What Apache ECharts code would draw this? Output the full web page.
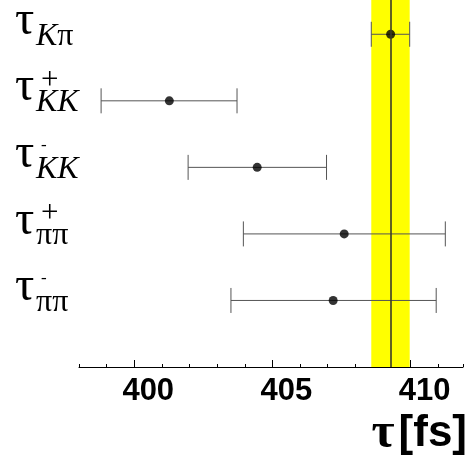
<!DOCTYPE html>
<html>
<head>
<meta charset="utf-8">
<script src="https://cdn.jsdelivr.net/npm/echarts@6/dist/echarts.min.js"></script>
<style>
  html, body { margin: 0; padding: 0; background: #fff; }
  #chart { width: 470px; height: 456px; }
</style>
</head>
<body>
<div id="chart"></div>
<script>
// Lifetime measurements, one row per decay channel (top to bottom)
const rowIndex  = [5, 4, 3, 2, 1];
const labelSub  = ['Kπ', 'KK', 'KK', 'ππ', 'ππ'];
const labelSup  = ['', '+', '-', '+', '-'];
const tauValue  = [409.28, 401.27, 404.45, 407.60, 407.20];
const tauLow    = [408.58, 398.80, 401.95, 403.95, 403.50];
const tauHigh   = [409.97, 403.72, 406.96, 411.26, 410.93];

// Reference value with its uncertainty band
const refValue = 409.28;
const refLow   = 408.58;
const refHigh  = 409.97;

// Axis range and labelled ticks
const xMin = 398;
const xMax = 411.9;
const majorTicks = [400, 405, 410];

const serif = '"Liberation Serif", "DejaVu Serif", serif';
const sans = '"Liberation Sans", Arial, sans-serif';

const chart = echarts.init(document.getElementById('chart'), null, { renderer: 'canvas' });

const rows = rowIndex.map((r, i) => i);

// Subscript as rich text: Latin letters italic, Greek upright
function subRich(s) {
  return Array.from(s).map(ch => (/[A-Za-z]/.test(ch) ? '{l|' : '{g|') + ch + '}').join('');
}

chart.setOption({
  animation: false,
  backgroundColor: '#fff',
  grid: { left: 79, right: 7, top: 0, bottom: 89, containLabel: false },
  title: {
    text: '{t|τ}{b|[fs]}',
    right: 3,
    bottom: -3,
    padding: 0,
    textStyle: {
      rich: {
        t: { fontFamily: serif, fontSize: 50, color: '#000', padding: [0, 4, 0, 0] },
        b: { fontFamily: sans, fontSize: 44, fontWeight: 'bold', color: '#000' }
      }
    }
  },
  xAxis: [
    {
      type: 'value',
      min: xMin, max: xMax, interval: 1,
      axisLine: { show: true, onZero: false, lineStyle: { color: '#000', width: 1 } },
      axisTick: { show: true, inside: true, length: 3, lineStyle: { color: '#000' } },
      axisLabel: { show: false },
      splitLine: { show: false }
    },
    {
      type: 'value',
      position: 'bottom',
      min: xMin, max: xMax,
      axisLine: { show: false },
      axisTick: { show: true, inside: true, length: 7, customValues: majorTicks, lineStyle: { color: '#000' } },
      axisLabel: {
        show: true, customValues: majorTicks, margin: 9,
        padding: [0, 0, 0, 28],
        fontFamily: sans, fontSize: 31, fontWeight: 'bold', color: '#000'
      },
      splitLine: { show: false }
    }
  ],
  yAxis: {
    type: 'value', min: 0, max: 5.515,
    show: false
  },
  series: [
    {
      // uncertainty band and central value
      type: 'line',
      data: [],
      z: 1,
      markArea: {
        silent: true,
        itemStyle: { color: '#ffff00', opacity: 1 },
        data: [[{ xAxis: refLow }, { xAxis: refHigh }]]
      },
      markLine: {
        silent: true,
        symbol: 'none',
        label: { show: false },
        lineStyle: { color: '#3a3a2a', width: 1.6, type: 'solid' },
        data: [{ xAxis: refValue }]
      }
    },
    {
      // horizontal error bars with end caps
      type: 'custom',
      z: 3,
      data: rows.map(i => [tauLow[i], tauHigh[i], rowIndex[i]]),
      renderItem: function (params, api) {
        const a = api.coord([api.value(0), api.value(2)]);
        const b = api.coord([api.value(1), api.value(2)]);
        const cap = 12.5;
        const style = { stroke: '#555', lineWidth: 1 };
        return {
          type: 'group',
          children: [
            { type: 'line', shape: { x1: a[0], y1: a[1], x2: b[0], y2: b[1] }, style },
            { type: 'line', shape: { x1: a[0], y1: a[1] - cap, x2: a[0], y2: a[1] + cap }, style },
            { type: 'line', shape: { x1: b[0], y1: b[1] - cap, x2: b[0], y2: b[1] + cap }, style }
          ]
        };
      }
    },
    {
      type: 'scatter',
      z: 4,
      symbol: 'circle',
      symbolSize: 9,
      itemStyle: { color: '#000' },
      data: rows.map(i => [tauValue[i], rowIndex[i]])
    },
    {
      // channel labels drawn beside each row
      type: 'custom',
      z: 5,
      clip: false,
      data: rows.map(i => [xMin, rowIndex[i], i]),
      renderItem: function (params, api) {
        const i = api.value(2);
        const p = api.coord([api.value(0), api.value(1)]);
        const x0 = p[0] - 64;
        const y = p[1];
        const sup = labelSup[i];
        const children = [
          { type: 'text', x: x0, y: y - 13,
            style: { text: 'τ', fontFamily: serif, fontSize: 48, fill: '#000', align: 'left', verticalAlign: 'middle' } },
          { type: 'text', x: x0 + 21, y: y + 2,
            style: {
              text: subRich(labelSub[i]), align: 'left', verticalAlign: 'middle',
              rich: {
                l: { fontFamily: serif, fontStyle: 'italic', fontSize: 32, fill: '#000' },
                g: { fontFamily: serif, fontSize: 32, fill: '#000' }
              }
            } }
        ];
        if (sup === '+') {
          children.push({ type: 'text', x: x0 + 26, y: y - 20,
            style: { text: '+', fontFamily: serif, fontSize: 31, fill: '#000', align: 'left', verticalAlign: 'middle' } });
        } else if (sup === '-') {
          children.push({ type: 'text', x: x0 + 26, y: y - 22,
            style: { text: '-', fontFamily: serif, fontSize: 17, fill: '#000', align: 'left', verticalAlign: 'middle' } });
        }
        return { type: 'group', children };
      }
    }
  ]
});
</script>
</body>
</html>
